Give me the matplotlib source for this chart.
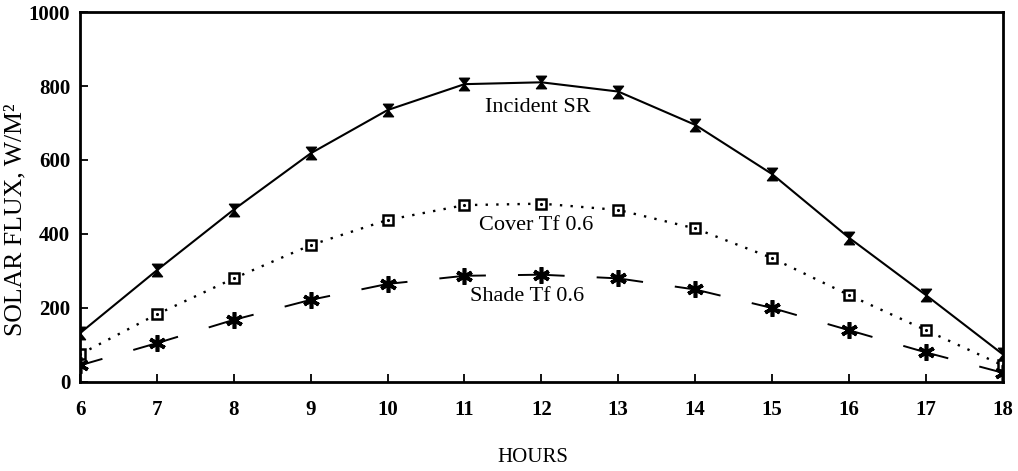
import matplotlib
matplotlib.use("Agg")
from matplotlib import pyplot as plt
from matplotlib.path import Path

# dati
hours = [6, 7, 8, 9, 10, 11, 12, 13, 14, 15, 16, 17, 18]
incident = [132, 302, 466, 618, 735, 805, 810, 785, 695, 562, 390, 235, 75]
cover = [75, 183, 280, 370, 438, 478, 482, 465, 415, 335, 235, 140, 45]
shade = [45, 105, 168, 222, 265, 287, 290, 280, 250, 200, 140, 80, 25]

yticks = [0, 200, 400, 600, 800, 1000]

plt.rcParams['font.family'] = ['Liberation Serif', 'DejaVu Serif']

# marker a clessidra
hourglass = Path([(-0.8, 1), (0.8, 1), (-0.8, -1), (0.8, -1), (-0.8, 1)],
                 [Path.MOVETO, Path.LINETO, Path.LINETO, Path.LINETO, Path.CLOSEPOLY])

f1 = plt.figure(figsize=(10.18, 4.71), dpi=100)
ax1 = f1.add_axes([0.0786, 0.189, 0.9064, 0.7855])

ax1.plot(hours, incident, '-', c='black', lw=1.5,
         marker=hourglass, ms=9, mfc='black', mec='black')
ax1.plot(hours, cover, c='black', lw=1.7, linestyle=(0, (1, 3.5)),
         marker='s', ms=7.5, mfc='white', mec='black', mew=1.8)
ax1.plot(hours, cover, ' ', marker='.', ms=2.5, c='black')
ax1.plot(hours, shade, c='black', lw=1.4, linestyle=(12, (24, 16.5)), dash_capstyle='butt',
         marker=(6, 2, 0), ms=12, mec='black', mew=2.6)

ax1.text(11.96, 743, 'Incident SR', ha='center', va='center', fontsize=16)
ax1.text(11.93, 424, 'Cover Tf 0.6', ha='center', va='center', fontsize=16)
ax1.text(11.81, 230, 'Shade Tf 0.6', ha='center', va='center', fontsize=16)

ax1.set_xlim((6, 18))
ax1.set_ylim((0, 1000))
ax1.set_xticks(hours)
ax1.set_yticks(yticks)
ax1.tick_params(direction='in', length=6, width=1.3, labelsize=15)
ax1.tick_params(axis='x', pad=13)
ax1.tick_params(axis='y', pad=7)
for label in ax1.get_xticklabels() + ax1.get_yticklabels():
    label.set_fontweight('bold')
for s in ax1.spines.values():
    s.set_linewidth(2)

# etichetta asse y, un po' spostata in basso come nell'originale
ax1.text(-0.0704, 0.44, 'SOLAR FLUX, W/M\u00b2', transform=ax1.transAxes,
         rotation=90, ha='center', va='center', fontsize=18.5)
f1.text(0.523, 0.028, 'HOURS', ha='center', va='center', fontsize=15)

f1.savefig('out.png', dpi=100)
